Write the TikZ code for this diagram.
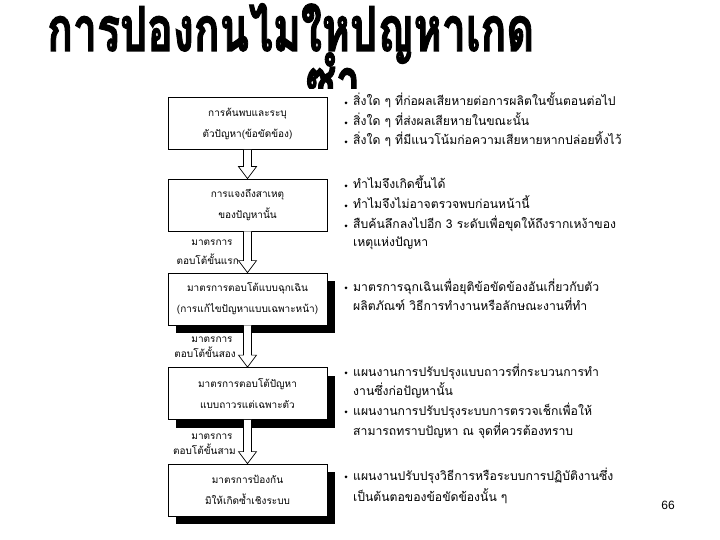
\documentclass[tikz,border=0pt]{standalone}
\usepackage{fontspec}
\setmainfont{Liberation Sans}
\newfontfamily\thai[Script=Thai]{Loma}
\newfontfamily\thaititle[Script=Thai, UprightFont={* Bold}, FakeBold=2]{Loma}
\usetikzlibrary{calc,shadows}
\tikzset{
  flowbox/.style={draw, line width=0.8pt, fill=white, minimum width=159pt, minimum height=52pt,
    align=center, inner sep=0pt, font=\thai\fontsize{10}{21}\selectfont},
  shadowbox/.style={flowbox, drop shadow={shadow xshift=8pt, shadow yshift=-8pt, opacity=1, fill=black}},
  steplabel/.style={font=\thai\fontsize{10}{12}\selectfont, inner sep=0pt, text height=7pt, text depth=2pt},
  bulletline/.style={anchor=base west, inner sep=0pt, text height=8pt, text depth=2pt,
    font=\thai\fontsize{12.2}{14}\selectfont},
  titletext/.style={inner sep=0pt, font=\thaititle\fontsize{62}{62}\selectfont},
  hollowarrow/.style={draw, line width=0.7pt, fill=white, line join=miter}
}
\newcommand{\ind}{\hspace*{10pt}}
\newcommand{\flowarrow}[2]{%
  \path[hollowarrow]
    ($(#1.south)+(-4,0)$) -- ($(#2.north)+(-4,-12)$) -- ($(#2.north)+(-9,-12)$) --
    (#2.north) -- ($(#2.north)+(9,-12)$) -- ($(#2.north)+(4,-12)$) -- ($(#1.south)+(4,0)$);}
\begin{document}
\begin{tikzpicture}[x=1pt,y=-1pt]
\useasboundingbox[fill=white] (0,0) rectangle (720,540);
% title
\node[titletext, anchor=base west] (title) at (47,51) {\scalebox{0.69}[1]{การปองกนไมใหปญหาเกด}};
\node[titletext, anchor=base] (title2) at (333,103) {\scalebox{0.69}[1]{ซำ}};
% picture area covering the title's second line
\fill[white] (165,89) rectangle (720,540);
% boxes
\node[flowbox] (b1) at (247.5,123.5) {การค้นพบและระบุ\\ตัวปัญหา(ข้อขัดข้อง)};
\node[flowbox] (b2) at (247.5,205) {การแจงถึงสาเหตุ\\ของปัญหานั้น};
\node[shadowbox] (b3) at (247.5,299) {มาตรการตอบโต้แบบฉุกเฉิน\\(การแก้ไขปัญหาแบบเฉพาะหน้า)};
\node[shadowbox] (b4) at (247.5,393.5) {มาตรการตอบโต้ปัญหา\\แบบถาวรแต่เฉพาะตัว};
\node[shadowbox] (b5) at (247.5,490) {มาตรการป้องกัน\\มิให้เกิดซ้ำเชิงระบบ};
% arrows
\flowarrow{b1}{b2}
\flowarrow{b2}{b3}
\flowarrow{b3}{b4}
\flowarrow{b4}{b5}
% arrow labels
\node[steplabel] (l1a) at (212,243) {มาตรการ};
\node[steplabel, anchor=east] (l1b) at (239,262) {ตอบโต้ขั้นแรก};
\node[steplabel] (l2a) at (212,340) {มาตรการ};
\node[steplabel, anchor=east] (l2b) at (236,355) {ตอบโต้ขั้นสอง};
\node[steplabel] (l3a) at (212,437) {มาตรการ};
\node[steplabel, anchor=east] (l3b) at (236,452) {ตอบโต้ขั้นสาม};
% right-hand notes
\node[bulletline] (g1a) at (343,106) {\ind สิ่งใด ๆ  ที่ก่อผลเสียหายต่อการผลิตในขั้นตอนต่อไป};
\node[bulletline] (g1b) at (343,126) {\ind สิ่งใด ๆ  ที่ส่งผลเสียหายในขณะนั้น};
\node[bulletline] (g1c) at (343,145) {\ind สิ่งใด ๆ  ที่มีแนวโน้มก่อความเสียหายหากปล่อยทิ้งไว้};
\node[bulletline] (g2a) at (343,189) {\ind ทำไมจึงเกิดขึ้นได้};
\node[bulletline] (g2b) at (343,209) {\ind ทำไมจึงไม่อาจตรวจพบก่อนหน้านี้};
\node[bulletline] (g2c) at (343,229) {\ind สืบค้นลึกลงไปอีก 3 ระดับเพื่อขุดให้ถึงรากเหง้าของ};
\node[bulletline] (g2d) at (343,247) {\ind เหตุแห่งปัญหา};
\node[bulletline] (g3a) at (343,291) {\ind มาตรการฉุกเฉินเพื่อยุติข้อขัดข้องอันเกี่ยวกับตัว};
\node[bulletline] (g3b) at (343,310) {\ind ผลิตภัณฑ์ วิธีการทำงานหรือลักษณะงานที่ทำ};
\node[bulletline] (g4a) at (343,376) {\ind แผนงานการปรับปรุงแบบถาวรที่กระบวนการทำ};
\node[bulletline] (g4b) at (343,395) {\ind งานซึ่งก่อปัญหานั้น};
\node[bulletline] (g4c) at (343,415) {\ind แผนงานการปรับปรุงระบบการตรวจเช็กเพื่อให้};
\node[bulletline] (g4d) at (343,435) {\ind สามารถทราบปัญหา ณ จุดที่ควรต้องทราบ};
\node[bulletline] (g5a) at (343,480) {\ind แผนงานปรับปรุงวิธีการหรือระบบการปฏิบัติงานซึ่ง};
\node[bulletline] (g5b) at (343,501) {\ind เป็นต้นตอของข้อขัดข้องนั้น ๆ};
% bullet dots
\foreach \n in {g1a,g1b,g1c,g2a,g2b,g2c,g3a,g4a,g4c,g5a}
  \fill ($(\n.base west)+(3,-3.2)$) circle (1.5pt);
% page number
\node[font=\fontsize{12}{14}\selectfont] (page) at (668,505) {66};
\end{tikzpicture}
\end{document}
